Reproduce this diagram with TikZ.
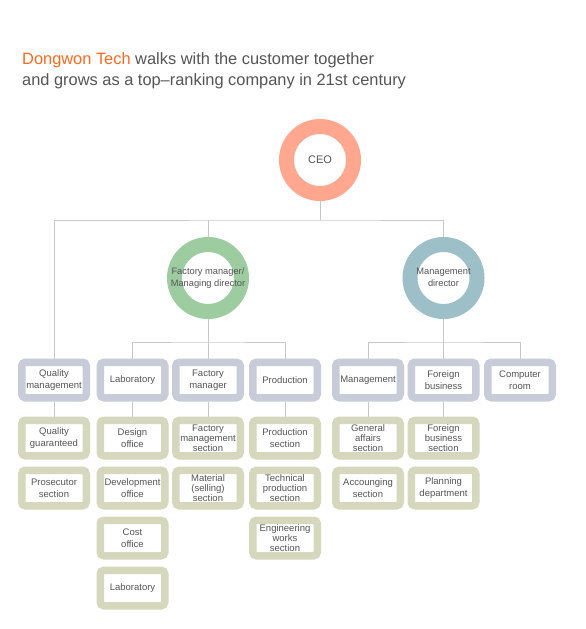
\documentclass[tikz,border=0pt]{standalone}
\usepackage{fontspec}
\setmainfont{Liberation Sans}
\definecolor{txt}{HTML}{555555}
\definecolor{orng}{HTML}{FF6A1F}
\definecolor{ceoc}{HTML}{FFA88F}
\definecolor{grnc}{HTML}{9ECCA1}
\definecolor{bluc}{HTML}{9CBFC8}
\definecolor{boxa}{HTML}{C8CBD8}
\definecolor{boxb}{HTML}{D5D8BC}
\definecolor{linec}{HTML}{C8C8C8}
\newcommand{\ringtext}[1]{\makebox[0pt][c]{\begin{tabular}{@{}c@{}}#1\end{tabular}}}
\tikzset{
  ring/.style={circle,line width=15pt,draw=#1,fill=white,minimum size=67pt,inner sep=0pt,outer sep=7.5pt,text=txt,font=\fontsize{9.3pt}{12pt}\selectfont},
  ubox/.style={rectangle,line width=7.5pt,draw=#1,rounded corners=3.75pt,fill=white,minimum width=64.5pt,minimum height=35.5pt,inner sep=0pt,outer sep=3.75pt,text=txt,align=center,font=\fontsize{9.5pt}{12pt}\selectfont},
  tbox/.style={ubox=#1,font=\fontsize{9.5pt}{10pt}\selectfont},
  conn/.style={draw=linec,line width=1pt},
  ttl/.style={anchor=base west,inner sep=0pt,text=txt,font=\fontsize{16.4pt}{20pt}\selectfont}
}
\begin{document}
\begin{tikzpicture}[x=1pt,y=-1pt]
\useasboundingbox (0,0) rectangle (586,629);
\fill[white] (0,0) rectangle (586,629);
\node[ttl] (title1) at (22,64) {\textcolor{orng}{Dongwon Tech} walks with the customer together};
\node[ttl] (title2) at (22,85) {and grows as a top–ranking company in 21st century};

\coordinate (bus1) at (320,220);
\coordinate (bus2) at (208,342);
\coordinate (bus3) at (443.5,342);

\node[ring=ceoc,font=\fontsize{11pt}{13pt}\selectfont] (ceo) at (320,160) {CEO};
\node[ring=grnc] (fm) at (208,278) {\ringtext{Factory manager/\\Managing director}};
\node[ring=bluc] (md) at (443.5,278) {\ringtext{Management\\director}};

\node[ubox=boxa] (qm) at (54,380) {Quality\\management};
\node[ubox=boxa] (lab) at (132.5,380) {Laboratory};
\node[ubox=boxa] (fmgr) at (208,380) {Factory\\manager};
\node[ubox=boxa] (prod) at (285,380) {Production};
\node[ubox=boxa] (mgmt) at (368,380) {Management};
\node[ubox=boxa] (fb) at (443.5,380) {Foreign\\business};
\node[ubox=boxa] (cr) at (520,380) {Computer\\room};

\node[ubox=boxb] (qg) at (54,438) {Quality\\guaranteed};
\node[ubox=boxb] (ps) at (54,488) {Prosecutor\\section};

\node[ubox=boxb] (do) at (132.5,438) {Design\\office};
\node[ubox=boxb] (dev) at (132.5,488) {Development\\office};
\node[ubox=boxb] (co) at (132.5,538) {Cost\\office};
\node[ubox=boxb] (lab2) at (132.5,588) {Laboratory};

\node[tbox=boxb] (fms) at (208,438) {Factory\\management\\section};
\node[tbox=boxb] (mat) at (208,488) {Material\\(selling)\\section};

\node[ubox=boxb] (ps2) at (285,438) {Production\\section};
\node[tbox=boxb] (tps) at (285,488) {Technical\\production\\section};
\node[tbox=boxb] (ews) at (285,538) {Engineering\\works\\section};

\node[tbox=boxb] (gas) at (368,438) {General\\affairs\\section};
\node[ubox=boxb] (acc) at (368,488) {Accounging\\section};

\node[tbox=boxb] (fbs) at (443.5,438) {Foreign\\business\\section};
\node[ubox=boxb] (pd) at (443.5,488) {Planning\\department};

\draw[conn] (ceo.south) -- (bus1);
\draw[conn] (qm.north) |- (bus1) -| (md.north);
\draw[conn] (fm.north) -- (fm.north |- bus1);

\draw[conn] (fm.south) -- (fmgr.north);
\draw[conn] (lab.north) |- (bus2) -| (prod.north);

\draw[conn] (md.south) -- (fb.north);
\draw[conn] (mgmt.north) |- (bus3) -| (cr.north);

\draw[conn] (qm.south) -- (qg.north);
\draw[conn] (lab.south) -- (do.north);
\draw[conn] (fmgr.south) -- (fms.north);
\draw[conn] (prod.south) -- (ps2.north);
\draw[conn] (mgmt.south) -- (gas.north);
\draw[conn] (fb.south) -- (fbs.north);
\end{tikzpicture}
\end{document}
